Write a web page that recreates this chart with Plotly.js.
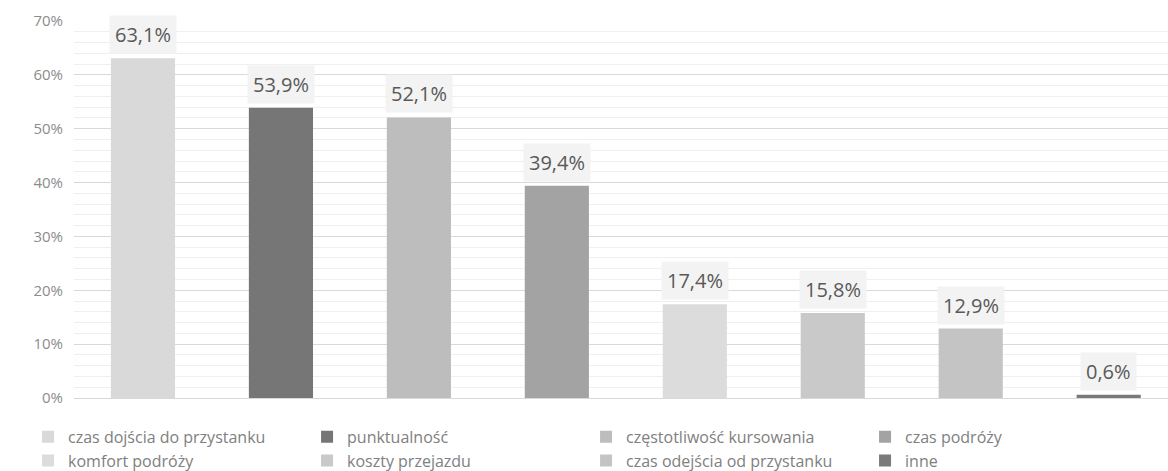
<!DOCTYPE html>
<html>
<head>
<meta charset="utf-8">
<script src="https://cdn.plot.ly/plotly-3.0.1.min.js"></script>
<style>html,body{margin:0;padding:0;background:#fff;overflow:hidden}</style>
</head>
<body>
<div id="chart" style="width:1168px;height:471px"></div>
<script>
const categories = [
  "czas dojścia do przystanku",
  "punktualność",
  "częstotliwość kursowania",
  "czas podróży",
  "komfort podróży",
  "koszty przejazdu",
  "czas odejścia od przystanku",
  "inne"
];
const values = [63.1, 53.9, 52.1, 39.4, 17.4, 15.8, 12.9, 0.6];
const colors = ["#d9d9d9", "#767676", "#bdbdbd", "#a3a3a3", "#dcdcdc", "#c9c9c9", "#c4c4c4", "#7a7a7a"];
const yTicks = [0, 10, 20, 30, 40, 50, 60, 70];

const fmt = v => v.toFixed(1).replace('.', ',') + '%';

const traces = categories.map((c, i) => ({
  type: 'bar',
  name: c,
  x: [c],
  y: [values[i]],
  width: 0.465,
  marker: {color: colors[i]},
  hoverinfo: 'none'
}));

const annotations = categories.map((c, i) => ({
  x: c, y: values[i], xref: 'x', yref: 'y',
  text: fmt(values[i]),
  showarrow: false,
  yanchor: 'bottom',
  yshift: 4,
  bgcolor: '#f3f3f3',
  borderpad: 5,
  font: {family: 'Open Sans', size: 20, color: '#595959'}
}));

const layout = {
  width: 1168, height: 471,
  margin: {l: 74, r: 0, t: 21, b: 73, autoexpand: false},
  paper_bgcolor: '#ffffff',
  plot_bgcolor: '#ffffff',
  barmode: 'overlay',
  showlegend: true,
  font: {family: 'Open Sans', color: '#808080'},
  xaxis: {
    type: 'category',
    categoryorder: 'array',
    categoryarray: categories,
    range: [-0.5, 7.43],
    showticklabels: false,
    showgrid: false,
    zeroline: false,
    showline: false,
    ticks: ''
  },
  yaxis: {
    range: [0, 70],
    tickvals: yTicks,
    ticktext: yTicks.map(v => v + '%'),
    tickfont: {family: 'Open Sans', size: 15, color: '#8c8c8c'},
    ticklabelstandoff: 10,
    showgrid: true,
    gridcolor: '#d9d9d9',
    gridwidth: 1,
    zeroline: true,
    zerolinecolor: '#d9d9d9',
    zerolinewidth: 1,
    showline: false,
    ticks: '',
    minor: {dtick: 2, showgrid: true, gridcolor: '#efefef', gridwidth: 1}
  },
  legend: {
    orientation: 'h',
    x: -0.042, xanchor: 'left',
    y: -0.058, yanchor: 'top',
    traceorder: 'normal',
    entrywidth: 234,
    font: {family: 'Open Sans', size: 16, color: '#808080'},
    bgcolor: 'rgba(0,0,0,0)',
    tracegroupgap: 0
  },
  annotations: annotations
};

Plotly.newPlot('chart', traces, layout, {displayModeBar: false, staticPlot: true});
</script>
</body>
</html>
